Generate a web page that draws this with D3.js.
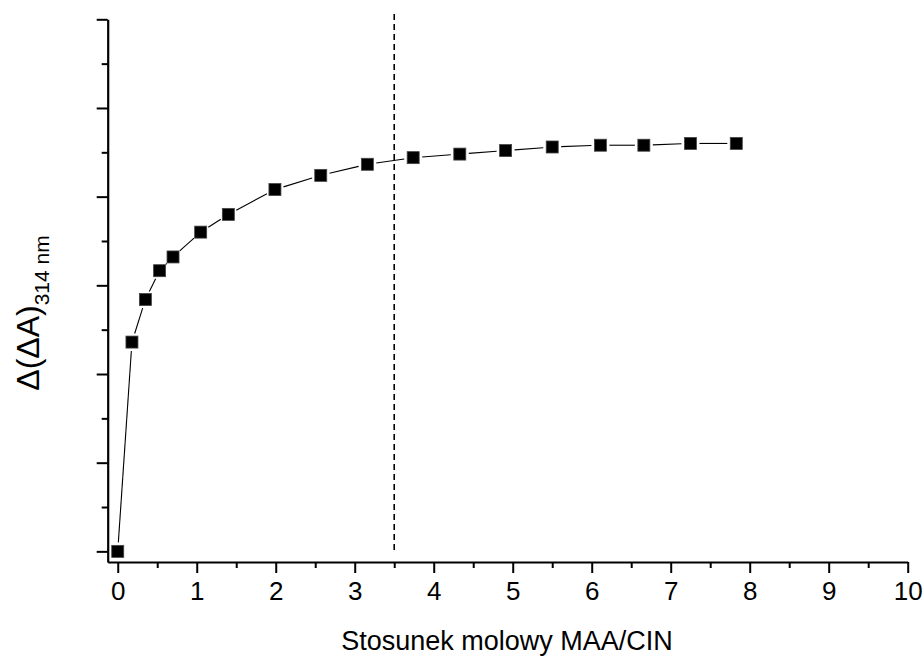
<!DOCTYPE html>
<html>
<head>
<meta charset="utf-8">
<script src="https://cdn.jsdelivr.net/npm/d3@7"></script>
<style>
  body { margin: 0; background: #fff; }
  svg { display: block; font-family: "Liberation Sans", Arial, sans-serif; }
</style>
</head>
<body>
<div id="chart"></div>
<script>
// molar ratio MAA/CIN and absorbance change (y axis has no numeric labels)
var ratios = [0, 0.18, 0.35, 0.53, 0.70, 1.05, 1.40, 1.99, 2.57, 3.16, 3.74, 4.33, 4.91, 5.50, 6.11, 6.66, 7.25, 7.83];
var deltaA = [0, 2.36, 2.84, 3.165, 3.32, 3.60, 3.80, 4.08, 4.24, 4.365, 4.44, 4.48, 4.52, 4.56, 4.58, 4.58, 4.60, 4.60];
var xTicks = [0, 1, 2, 3, 4, 5, 6, 7, 8, 9, 10];
var yTicks = [0, 1, 2, 3, 4, 5, 6];
var equivRatio = 3.5;       // dashed vertical line
var equivSpan = [0, 6.06];  // its extent in y units

var width = 924, height = 657;

var svg = d3.select("#chart")
  .append("svg")
  .attr("width", width)
  .attr("height", height);

var x = d3.scaleLinear().domain([-0.127, 10]).range([107.7, 907.7]);
var y = d3.scaleLinear().domain([-0.12, 6]).range([562, 19.3]);

// minor ticks at half steps
var xMinor = d3.range(0.5, 10, 1);
var yMinor = d3.range(0.5, 6, 1);

// x axis
var gx = svg.append("g").attr("transform", "translate(0,562)");
gx.call(d3.axisBottom(x).tickValues(xTicks).tickSize(11).tickSizeOuter(0).tickPadding(9)
  .tickFormat(d3.format("d")));
gx.append("g").call(d3.axisBottom(x).tickValues(xMinor).tickSize(6).tickFormat(""))
  .select(".domain").remove();

// y axis
var gy = svg.append("g").attr("transform", "translate(107.7,0)");
gy.call(d3.axisLeft(y).tickValues(yTicks).tickSize(11).tickSizeOuter(0).tickFormat(""));
gy.append("g").call(d3.axisLeft(y).tickValues(yMinor).tickSize(6).tickFormat(""))
  .select(".domain").remove();

svg.selectAll(".domain").attr("stroke", "#000").attr("stroke-width", 2.2);
svg.selectAll(".tick line").attr("stroke", "#000").attr("stroke-width", 2);
gx.selectAll(".tick text").attr("font-size", 26).attr("fill", "#000");

// dashed reference line
svg.append("line")
  .attr("x1", x(equivRatio)).attr("x2", x(equivRatio))
  .attr("y1", y(equivSpan[1])).attr("y2", y(equivSpan[0]))
  .attr("stroke", "#000")
  .attr("stroke-width", 1.6)
  .attr("stroke-dasharray", "6,4");

// connecting segments, stopped short of the markers
var pts = ratios.map(function(d, i) { return [x(d), y(deltaA[i])]; });
var gap = 9;
for (var i = 0; i < pts.length - 1; i++) {
  var a = pts[i], b = pts[i + 1];
  var dx = b[0] - a[0], dy = b[1] - a[1];
  var len = Math.sqrt(dx * dx + dy * dy);
  if (len <= 2 * gap) continue;
  var ux = dx / len, uy = dy / len;
  svg.append("line")
    .attr("x1", a[0] + ux * gap).attr("y1", a[1] + uy * gap)
    .attr("x2", b[0] - ux * gap).attr("y2", b[1] - uy * gap)
    .attr("stroke", "#000")
    .attr("stroke-width", 1.1);
}

// square markers
var size = 12;
svg.append("g")
  .selectAll("rect")
  .data(ratios)
  .join("rect")
  .attr("x", function(d) { return x(d) - size / 2; })
  .attr("y", function(d, i) { return y(deltaA[i]) - size / 2; })
  .attr("width", size)
  .attr("height", size)
  .attr("fill", "#000")
  .attr("stroke", "#444")
  .attr("stroke-width", 0.8);

// axis titles
svg.append("text")
  .attr("x", 507)
  .attr("y", 650)
  .attr("text-anchor", "middle")
  .attr("font-size", 27)
  .text("Stosunek molowy MAA/CIN");

var yl = svg.append("text")
  .attr("transform", "translate(39,313) rotate(-90)")
  .attr("text-anchor", "middle");
yl.append("tspan").attr("font-size", 32).text("\u0394(\u0394A)");
yl.append("tspan").attr("font-size", 21).attr("dy", 10).text("314 nm");
</script>
</body>
</html>
